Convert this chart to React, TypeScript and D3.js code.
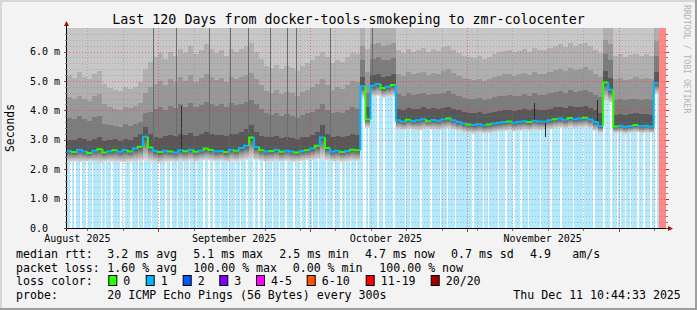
import React from 'react';
import * as d3 from 'd3';

// ---------- data ----------
const START = new Date(Date.UTC(2025, 7, 13, 22, 48));
const END = new Date(Date.UTC(2025, 11, 10, 9, 6));
const DAY = 864e5;

// daily median rtt (ms), one per day from START
const median: (number | null)[] = [
  2.62, 2.58, 2.66, 2.60, 2.55, 2.63, 2.68, 2.57, 2.61, 2.64,
  2.59, 2.65, 2.60, 2.70, 2.76, 3.10, 2.74, 2.62, 2.58, 2.63,
  2.60, 2.57, 2.64, 2.61, 2.66, 2.59, 2.63, 2.70, 2.65, 2.60,
  2.62, 2.58, 2.66, 2.63, 2.72, 2.80, 3.08, 2.75, 2.64, 2.60,
  2.62, 2.66, 2.59, 2.63, 2.60, 2.57, 2.62, 2.64, 2.70, 2.80,
  3.08, 2.72, 2.60, 2.63, 2.58, 2.62, 2.66, 2.64, 4.82, 3.70,
  4.84, 4.90, 4.76, 4.80, 4.86, 3.66, 3.62, 3.68, 3.64, 3.66,
  3.70, 3.63, 3.67, 3.65, 3.69, 3.72, 3.66, 3.60, 3.55, 3.52,
  3.50, 3.53, 3.49, 3.52, 3.55, 3.58, 3.60, 3.62, 3.58, 3.61,
  3.63, 3.60, 3.65, 3.62, 3.62, 3.66, 3.70, 3.72, 3.68, 3.74,
  3.70, 3.72, 3.75, 3.69, 3.60, 3.47, 4.95, 4.70, 3.45, 3.48,
  3.44, 3.47, 3.50, 3.46, 3.48, 3.45, 4.92, null, null,
];
// lowest ping (bottom of the smoke)
const smokeLow: (number | null)[] = [
  2.24, 2.26, 2.23, 2.25, 2.27, 2.24, 2.22, 2.25, 2.26, 2.24,
  2.25, 2.23, 2.26, 2.24, 2.27, 2.30, 2.26, 2.24, 2.22, 2.25,
  2.26, 2.24, 2.27, 2.25, 2.28, 2.26, 2.29, 2.30, 2.28, 2.26,
  2.27, 2.25, 2.28, 2.26, 2.29, 2.32, 2.35, 2.30, 2.27, 2.25,
  2.26, 2.28, 2.25, 2.27, 2.24, 2.26, 2.28, 2.30, 2.31, 2.33,
  2.36, 2.30, 2.26, 2.27, 2.25, 2.26, 2.28, 2.27, 4.40, 3.40,
  4.45, 4.48, 4.42, 4.45, 4.47, 3.34, 3.32, 3.35, 3.33, 3.31,
  3.34, 3.36, 3.33, 3.32, 3.35, 3.37, 3.33, 3.30, 3.24, 3.22,
  3.20, 3.23, 3.21, 3.22, 3.25, 3.27, 3.29, 3.31, 3.28, 3.30,
  3.32, 3.30, 3.33, 3.31, 3.32, 3.35, 3.38, 3.40, 3.37, 3.41,
  3.38, 3.40, 3.42, 3.38, 3.30, 3.22, 4.32, 4.25, 3.22, 3.24,
  3.20, 3.23, 3.25, 3.21, 3.23, 3.22, 4.55, null, null,
];
// upper smoke levels (ms), inner to outer
const smokeU1: (number | null)[] = [
  3.00, 2.98, 3.05, 3.02, 2.95, 3.04, 3.08, 2.97, 3.00, 3.03,
  2.96, 3.02, 2.98, 3.10, 3.18, 3.45, 3.20, 3.10, 3.05, 3.12,
  3.15, 3.12, 3.20, 3.16, 3.22, 3.14, 3.18, 3.25, 3.20, 3.15,
  3.17, 3.12, 3.20, 3.18, 3.26, 3.35, 3.50, 3.25, 3.14, 3.10,
  3.08, 3.12, 3.05, 3.10, 3.06, 3.02, 3.08, 3.10, 3.15, 3.25,
  3.50, 3.20, 3.10, 3.14, 3.08, 3.12, 3.18, 3.15, 5.15, 4.10,
  5.20, 5.25, 5.15, 5.18, 5.22, 4.05, 4.02, 4.08, 4.04, 4.06,
  4.10, 4.03, 4.07, 4.05, 4.09, 4.12, 4.06, 4.00, 3.95, 3.92,
  3.90, 3.93, 3.88, 3.92, 3.95, 3.98, 4.00, 4.02, 3.98, 4.01,
  4.03, 4.00, 4.05, 4.02, 4.02, 4.06, 4.10, 4.12, 4.08, 4.14,
  4.10, 4.12, 4.15, 4.09, 4.00, 3.90, 5.35, 5.10, 3.85, 3.88,
  3.84, 3.87, 3.90, 3.86, 3.88, 3.85, 5.30, null, null,
];
const smokeU2: (number | null)[] = [
  3.75, 3.70, 3.80, 3.72, 3.65, 3.78, 3.82, 3.55, 3.50, 3.48,
  3.45, 3.52, 3.48, 3.55, 3.62, 3.90, 3.95, 4.05, 4.10, 4.00,
  4.15, 4.08, 4.20, 4.12, 4.25, 4.10, 4.18, 4.30, 4.22, 4.15,
  4.20, 4.10, 4.25, 4.18, 4.22, 4.30, 4.35, 4.20, 4.05, 3.90,
  3.85, 3.90, 3.80, 3.88, 3.82, 3.75, 3.85, 3.90, 3.95, 4.05,
  4.20, 4.00, 3.90, 3.95, 3.92, 4.00, 4.10, 4.05, 5.70, 4.60,
  5.75, 5.80, 5.70, 5.72, 5.78, 4.55, 4.50, 4.58, 4.52, 4.55,
  4.60, 4.52, 4.57, 4.55, 4.60, 4.65, 4.56, 4.50, 4.42, 4.40,
  4.38, 4.42, 4.36, 4.40, 4.45, 4.48, 4.50, 4.52, 4.48, 4.50,
  4.55, 4.50, 4.58, 4.52, 4.52, 4.58, 4.62, 4.65, 4.60, 4.68,
  4.62, 4.65, 4.70, 4.62, 4.52, 4.45, 5.90, 5.70, 4.35, 4.38,
  4.34, 4.37, 4.40, 4.36, 4.38, 4.35, 5.85, null, null,
];
const smokeU3: (number | null)[] = [
  4.45, 4.38, 4.50, 4.40, 4.32, 4.48, 4.55, 4.20, 4.10, 4.05,
  4.02, 4.12, 4.08, 4.15, 4.25, 4.60, 4.80, 4.90, 5.00, 4.85,
  5.05, 4.95, 5.15, 5.00, 5.20, 4.98, 5.10, 5.25, 5.12, 5.02,
  5.10, 4.95, 5.15, 5.05, 5.12, 5.20, 5.28, 5.05, 4.85, 4.65,
  4.60, 4.68, 4.55, 4.62, 4.58, 4.50, 4.62, 4.70, 4.78, 4.90,
  5.05, 4.85, 4.70, 4.78, 4.72, 4.85, 5.00, 4.95, 6.20, 5.30,
  6.25, 6.30, 6.20, 6.22, 6.28, 5.25, 5.18, 5.30, 5.22, 5.26,
  5.32, 5.20, 5.28, 5.25, 5.35, 5.40, 5.28, 5.18, 5.10, 5.05,
  5.02, 5.08, 5.00, 5.05, 5.12, 5.18, 5.22, 5.25, 5.18, 5.22,
  5.28, 5.20, 5.32, 5.25, 5.24, 5.32, 5.38, 5.42, 5.35, 5.45,
  5.38, 5.42, 5.48, 5.38, 5.25, 5.15, 6.40, 6.25, 5.05, 5.10,
  5.02, 5.08, 5.12, 5.06, 5.10, 5.05, 6.35, null, null,
];
const smokeU4: (number | null)[] = [
  5.20, 5.10, 5.30, 5.15, 5.05, 5.25, 5.35, 4.90, 4.75, 4.70,
  4.65, 4.78, 4.72, 4.80, 4.95, 5.40, 5.65, 5.80, 5.95, 5.75,
  6.00, 5.85, 6.10, 5.95, 6.20, 5.90, 6.05, 6.25, 6.10, 5.95,
  6.05, 5.85, 6.10, 6.00, 6.08, 6.20, 6.30, 6.00, 5.75, 5.50,
  5.45, 5.55, 5.40, 5.50, 5.45, 5.35, 5.50, 5.60, 5.70, 5.85,
  6.00, 5.80, 5.60, 5.70, 5.65, 5.80, 5.95, 5.90, 6.90, 6.10,
  6.90, 6.90, 6.90, 6.90, 6.90, 6.05, 5.95, 6.10, 6.00, 6.05,
  6.12, 5.98, 6.08, 6.02, 6.15, 6.20, 6.05, 5.95, 5.85, 5.80,
  5.78, 5.85, 5.75, 5.82, 5.90, 5.98, 6.02, 6.05, 5.98, 6.02,
  6.10, 6.00, 6.12, 6.05, 6.04, 6.12, 6.20, 6.25, 6.15, 6.28,
  6.20, 6.25, 6.30, 6.20, 6.05, 5.95, 6.90, 6.90, 5.85, 5.90,
  5.82, 5.88, 5.92, 5.86, 5.90, 5.85, 6.90, null, null,
];
// packets lost (of 20) at the median sample of each day
const medianLoss: number[] = [
  1, 0, 1, 1, 0, 1, 0, 0, 1, 0, 1, 1, 0, 1, 0, 1, 0, 1, 0, 1,
  0, 1, 1, 0, 1, 0, 1, 0, 0, 1, 1, 0, 1, 0, 1, 1, 0, 1, 0, 1,
  0, 1, 0, 1, 1, 0, 1, 0, 1, 0, 1, 0, 1, 1, 0, 1, 0, 0,
  1, 0, 1, 1, 0, 1, 0,
  1, 1, 0, 1, 1, 1, 0, 1, 1, 1, 0, 1, 1, 1, 0,
  1, 1, 1, 0, 1, 1, 1, 0, 1, 1, 1, 0, 1, 1, 1, 1, 0, 1, 1, 0,
  1, 1, 0, 1, 1, 1, 0, 1, 0, 1, 1, 1, 0, 1, 1, 1, 1,
  20, 20,
];
// loss background periods (day offsets) and zero-loss samples
const lossFrom = [0, 117];
const lossTo = [117, 119];
const lossLevel = [1, 20];
const SAMPLE_DAYS = 0.3;
const zeroLossDays = [
  0.6, 1.4, 2.6, 3.8, 4.9, 6.7, 7.5, 8.7, 10.5, 11.1, 12.5, 14.0, 15.0, 16.6, 18.0,
  19.4, 20.4, 21.7, 22.9, 24.1, 25.5, 26.9, 27.9, 28.9, 30.2, 31.8, 33.2, 34.2, 35.4,
  36.8, 37.8, 38.8, 40.5, 41.9, 43.1, 44.7, 46.1, 47.3, 48.4, 49.6, 51.2, 52.6, 54.0,
  54.9, 55.9, 57.1, 58.5, 58.75, 59.5, 61.3, 62.5, 64.5, 66.8, 67.8, 69.8, 71.8, 73.7,
  75.1, 76.7, 80.1, 82.2, 83.2, 85.2, 86.6, 88.2, 89.6, 91.1, 93.5, 95.5, 97.5, 100.0,
  102.0, 104.0, 106.0, 107.4, 108.7, 109.3, 110.3, 111.3, 112.7, 113.9, 115.3, 116.3,
];
// short outlier streaks (day offset, low ms, high ms)
const spikeDay = [17.1, 21.6, 22.5, 28.1, 32.2, 35.8, 40.2, 43.5, 45.3, 52.0, 60.3, 92.3, 94.5, 104.8];
const spikeLow = [3.0, 3.1, 2.6, 3.2, 3.2, 3.2, 3.1, 3.0, 3.0, 3.1, 5.2, 3.6, 3.1, 3.5];
const spikeHigh = [6.8, 6.8, 4.15, 6.8, 6.8, 6.8, 6.8, 6.8, 6.8, 6.8, 6.8, 4.26, 3.6, 4.35];

const yTickValues = [0, 1, 2, 3, 4, 5, 6];
const yTickLabels = ['0.0', '1.0 m', '2.0 m', '3.0 m', '4.0 m', '5.0 m', '6.0 m'];
const Y_MAX = 6.8;

const lossLabels = ['0', '1', '2', '3', '4-5', '6-10', '11-19', '20/20'];
const lossColors = ['#26ff00', '#00b8ff', '#0059ff', '#7e00ff', '#ff00ff', '#ff5500', '#ff0000', '#a10000'];

const title = 'Last 120 Days from docker-tools-smokeping to zmr-colocenter';
const rttStats = ['median rtt:', '3.2 ms avg', '5.1 ms max', '2.5 ms min', '4.7 ms now', '0.7 ms sd', '4.9', 'am/s'];
const lossStats = ['packet loss:', '1.60 % avg', '100.00 % max', '0.00 % min', '100.00 % now'];
const probeText = ['probe:', '20 ICMP Echo Pings (56 Bytes) every 300s', 'Thu Dec 11 10:44:33 2025'];

// ---------- layout ----------
const W = 697, H = 310;
const PL = 67, PR = 666, PT = 28, PB = 228;
const MONO = '"DejaVu Sans Mono", monospace';
const rttX = [16, 107.3, 193.3, 279.3, 365, 451, 530, 572.3];
const lossX = [16, 107.3, 193.3, 292.7, 379.3];
const probeX = [16, 107.3, 513.3];
const swatchX = [108.3, 145.7, 182.7, 219.3, 256, 306.7, 365.7, 430.7];

function lossColor(n: number) {
  if (n <= 0) return lossColors[0];
  if (n === 1) return lossColors[1];
  if (n === 2) return lossColors[2];
  if (n === 3) return lossColors[3];
  if (n <= 5) return lossColors[4];
  if (n <= 10) return lossColors[5];
  if (n <= 19) return lossColors[6];
  return lossColors[7];
}
function lossBg(n: number) {
  if (n >= 20) return '#ff8787';
  return '#b2e9fd';
}

export default function App() {
  const x = d3.scaleUtc().domain([START, END]).range([PL, PR]);
  const y = d3.scaleLinear().domain([0, Y_MAX]).range([PB, PT]);
  const t = (d: number) => new Date(START.getTime() + d * DAY);
  const xd = (d: number) => Math.max(PL, Math.min(PR, x(t(d))));

  const bands: JSX.Element[] = [];
  const layers: [(number | null)[], (number | null)[] | null, string][] = [
    [smokeLow, null, '#c7c7c7'],
    [smokeU3, smokeU4, '#b0b0b0'],
    [smokeU2, smokeU3, '#989898'],
    [smokeU1, smokeU2, '#7c7c7c'],
    [median, smokeU1, '#585858'],
  ];
  median.forEach((_, i) => {
    const x0 = xd(i), x1 = xd(i + 1);
    if (x1 <= x0) return;
    layers.forEach(([lo, hi, fill], k) => {
      const a = lo[i];
      const b = hi ? hi[i] : Y_MAX;
      if (a == null || b == null) return;
      const top = Math.min(b, Y_MAX);
      if (top <= a) return;
      bands.push(
        <rect key={`b${k}-${i}`} x={x0} width={x1 - x0} y={y(top)} height={y(a) - y(top)} fill={fill} />
      );
    });
    const lo = smokeLow[i], m = median[i];
    if (lo != null && m != null && m > lo) {
      bands.push(
        <rect key={`g-${i}`} x={x0} width={x1 - x0} y={y(m)} height={y(lo) - y(m)} fill="url(#lowsmoke)" />
      );
    }
  });

  const medianSegs: JSX.Element[] = [];
  median.forEach((m, i) => {
    if (m == null) return;
    const x0 = xd(i), x1 = xd(i + 1);
    const prev = i > 0 ? median[i - 1] : null;
    const d = prev != null ? `M${x0},${y(prev)}V${y(m)}H${x1}` : `M${x0},${y(m)}H${x1}`;
    medianSegs.push(<path key={`m${i}`} d={d} stroke={lossColor(medianLoss[i])} strokeWidth={2} fill="none" />);
  });

  const months = d3.utcMonth.range(START, END);
  const weeks = d3.utcMonday.range(START, END).filter((d) => d.getUTCDate() !== 1);
  const labelMonths = d3.utcMonth
    .range(d3.utcMonth.floor(START), END)
    .map((m) => d3.utcDay.offset(m, 15))
    .filter((d) => d >= START && d <= END);
  const minorY = d3.range(1, 34).map((k) => k * 0.2).filter((v) => Math.abs(v - Math.round(v)) > 1e-6);
  const fmt = d3.utcFormat('%B %Y');

  return (
    <svg
      width={W}
      height={H}
      viewBox={`0 0 ${W} ${H}`}
      style={{ position: 'fixed', left: 0, top: 0, display: 'block' }}
      fontFamily={MONO}
    >
      <defs>
        <linearGradient id="lowsmoke" x1="0" y1="1" x2="0" y2="0">
          <stop offset="0" stopColor="#dedede" />
          <stop offset="0.45" stopColor="#a6a6a6" />
          <stop offset="1" stopColor="#505050" />
        </linearGradient>
      </defs>
      <rect x={0} y={0} width={W} height={H} fill="#f3f3f3" />
      <rect x={0} y={0} width={W} height={2} fill="#d6d6d6" />
      <rect x={0} y={0} width={2} height={H} fill="#d6d6d6" />
      <rect x={0} y={H - 2} width={W} height={2} fill="#9d9d9d" />
      <rect x={W - 2} y={0} width={2} height={H} fill="#9d9d9d" />

      {/* canvas */}
      <rect x={PL} y={PT} width={PR - PL} height={PB - PT} fill="#ffffff" />
      <g shapeRendering="crispEdges">
        {lossFrom.map((f, i) => (
          <rect key={`lb${i}`} x={xd(f)} width={xd(lossTo[i]) - xd(f)} y={PT} height={PB - PT} fill={lossBg(lossLevel[i])} />
        ))}
        {zeroLossDays.map((d, i) => (
          <rect key={`z${i}`} x={xd(d)} width={Math.max(1, xd(d + SAMPLE_DAYS) - xd(d))} y={PT} height={PB - PT} fill="#ffffff" />
        ))}
        {bands}
        {spikeDay.map((d, i) => (
          <rect key={`s${i}`} x={Math.round(xd(d))} width={1} y={y(spikeHigh[i])} height={y(spikeLow[i]) - y(spikeHigh[i])}
            fill={spikeHigh[i] < 6 ? '#2a2a2a' : '#6c6c6c'} />
        ))}
      </g>

      {/* grid */}
      <g strokeWidth={1} strokeDasharray="1,2" shapeRendering="crispEdges">
        {minorY.map((v, i) => (
          <line key={`my${i}`} x1={PL} x2={PR} y1={Math.round(y(v)) + 0.5} y2={Math.round(y(v)) + 0.5} stroke="rgba(130,130,130,0.45)" />
        ))}
        {weeks.map((d, i) => (
          <line key={`wx${i}`} x1={Math.round(x(d)) + 0.5} x2={Math.round(x(d)) + 0.5} y1={PT} y2={PB} stroke="rgba(130,130,130,0.45)" />
        ))}
        {yTickValues.filter((v) => v > 0).map((v, i) => (
          <line key={`My${i}`} x1={PL} x2={PR} y1={Math.round(y(v)) + 0.5} y2={Math.round(y(v)) + 0.5} stroke="rgba(255,40,40,0.55)" />
        ))}
        {months.map((d, i) => (
          <line key={`Mx${i}`} x1={Math.round(x(d)) + 0.5} x2={Math.round(x(d)) + 0.5} y1={PT} y2={PB} stroke="rgba(255,40,40,0.55)" />
        ))}
      </g>

      {medianSegs}

      {/* axes */}
      <g stroke="#000" strokeWidth={1} shapeRendering="crispEdges">
        <line x1={PL - 3} x2={PR + 3} y1={PB + 0.5} y2={PB + 0.5} />
        <line x1={PL - 0.5} x2={PL - 0.5} y1={PB + 3} y2={PT - 3} />
        {minorY.map((v, i) => (
          <g key={`ty${i}`}>
            <line x1={PL - 2.5} x2={PL - 0.5} y1={Math.round(y(v)) + 0.5} y2={Math.round(y(v)) + 0.5} stroke="#777" />
            <line x1={PR} x2={PR + 2} y1={Math.round(y(v)) + 0.5} y2={Math.round(y(v)) + 0.5} stroke="#777" />
          </g>
        ))}
        {yTickValues.map((v, i) => (
          <g key={`tY${i}`}>
            <line x1={PL - 3.5} x2={PL - 0.5} y1={Math.round(y(v)) + 0.5} y2={Math.round(y(v)) + 0.5} stroke="#a33" />
            <line x1={PR} x2={PR + 3} y1={Math.round(y(v)) + 0.5} y2={Math.round(y(v)) + 0.5} stroke="#a33" />
          </g>
        ))}
        {weeks.map((d, i) => (
          <line key={`tw${i}`} x1={Math.round(x(d)) + 0.5} x2={Math.round(x(d)) + 0.5} y1={PB + 1} y2={PB + 3} stroke="#777" />
        ))}
        {months.map((d, i) => (
          <line key={`tm${i}`} x1={Math.round(x(d)) + 0.5} x2={Math.round(x(d)) + 0.5} y1={PB + 1} y2={PB + 4} stroke="#a33" />
        ))}
      </g>
      <path d={`M${PL - 3},${PT - 2}L${PL + 2},${PT - 2}L${PL - 0.5},${PT - 7}Z`} fill="#a01010" />
      <path d={`M${PR + 2},${PB - 2}L${PR + 2},${PB + 3}L${PR + 7},${PB + 0.5}Z`} fill="#a01010" />

      {/* texts */}
      <text x={W / 2} y={23.5} fontSize={13.3} textAnchor="middle" fill="#000">{title}</text>
      <text transform={`translate(13.5,${(PT + PB) / 2}) rotate(-90)`} fontSize={11.4} textAnchor="middle" fill="#000">Seconds</text>
      <text transform="translate(684,5) rotate(90)" fontSize={8.2} fill="#b4b4b4">RRDTOOL / TOBI OETIKER</text>

      {yTickValues.map((v, i) => (
        <text key={`yl${i}`} x={30} y={y(v) + 3.6} fontSize={10} fill="#000">{yTickLabels[i]}</text>
      ))}
      {labelMonths.map((d, i) => (
        <text key={`xl${i}`} x={x(d)} y={242} fontSize={10} textAnchor="middle" fill="#000">{fmt(d)}</text>
      ))}

      <g fontSize={11.6} fill="#000" style={{ whiteSpace: 'pre' }}>
        {rttStats.map((s, i) => (
          <text key={`r${i}`} x={rttX[i]} y={257.7}>{s}</text>
        ))}
        {lossStats.map((s, i) => (
          <text key={`l${i}`} x={lossX[i]} y={271.7}>{s}</text>
        ))}
        <text x={16} y={285.3}>loss color:</text>
        {lossLabels.map((s, i) => (
          <g key={`lc${i}`}>
            <rect x={swatchX[i] + 0.5} y={275.5} width={8} height={10} fill={lossColors[i]} stroke="#000" strokeWidth={1} />
            <text x={swatchX[i] + 15} y={285.3}>{s}</text>
          </g>
        ))}
        {probeText.map((s, i) => (
          <text key={`p${i}`} x={probeX[i]} y={299.3}>{s}</text>
        ))}
      </g>
    </svg>
  );
}
